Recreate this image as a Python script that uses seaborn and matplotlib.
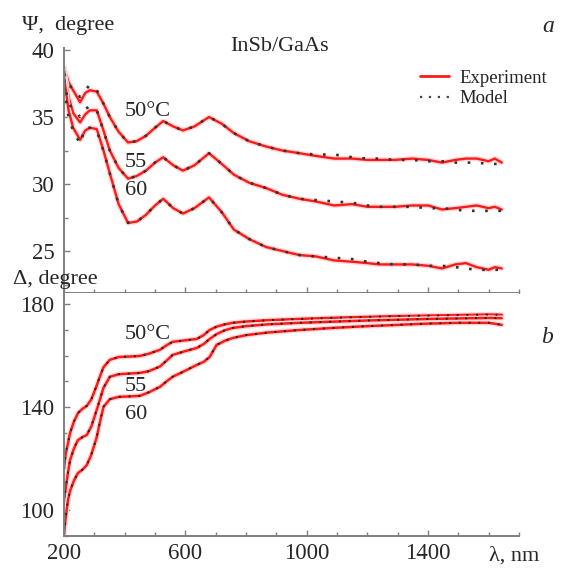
import seaborn as sns
import matplotlib.pyplot as plt
import matplotlib.patheffects as pe
from matplotlib.lines import Line2D
from matplotlib.ticker import MultipleLocator
import pandas as pd

# wavelength grid (nm) and Psi curves (degree)
lam_psi = [200, 215, 230, 253, 270, 285, 308, 330, 351, 380, 411, 440, 470, 500, 527, 560,
           592, 630, 678, 720, 760, 810, 866, 920, 976, 1030, 1091, 1150, 1200, 1239, 1290,
           1348, 1400, 1446, 1490, 1525, 1560, 1600, 1620, 1643]
psi_50 = [38.7, 37.6, 37.0, 36.1, 36.8, 37.0, 36.9, 36.0, 35.0, 33.9, 33.1, 33.2, 33.6, 34.2,
          34.7, 34.3, 34.0, 34.3, 35.0, 34.5, 33.8, 33.2, 32.8, 32.5, 32.3, 32.1, 31.9, 31.9,
          31.8, 31.8, 31.8, 31.9, 31.8, 31.6, 31.8, 31.9, 31.9, 31.7, 31.9, 31.6]
psi_55 = [38.5, 36.5, 35.3, 34.6, 35.2, 35.5, 35.5, 34.0, 32.5, 31.2, 30.4, 30.6, 31.0, 31.6,
          32.0, 31.4, 31.0, 31.4, 32.3, 31.5, 30.7, 30.1, 29.7, 29.2, 28.9, 28.7, 28.4, 28.5,
          28.3, 28.3, 28.3, 28.4, 28.4, 28.1, 28.2, 28.3, 28.4, 28.2, 28.3, 28.1]
psi_60 = [38.0, 35.5, 34.2, 33.3, 34.0, 34.2, 34.1, 32.5, 30.8, 28.5, 27.1, 27.2, 27.7, 28.4,
          28.9, 28.2, 27.8, 28.2, 29.0, 27.9, 26.6, 25.9, 25.3, 25.0, 24.7, 24.6, 24.3, 24.2,
          24.1, 24.0, 24.0, 24.0, 23.9, 23.7, 24.0, 24.1, 23.8, 23.6, 23.8, 23.7]
psi_50_model = [38.2, 37.4, 37.1, 36.5, 37.0, 37.4, 37.0, 36.0, 35.0, 33.9, 33.1, 33.2, 33.6, 34.2,
                34.7, 34.3, 34.0, 34.3, 35.0, 34.5, 33.8, 33.2, 32.8, 32.5, 32.3, 32.2, 32.2, 32.0,
                31.9, 31.9, 31.8, 31.8, 31.7, 31.7, 31.6, 31.6, 31.6, 31.5, 31.5, 31.5]
psi_55_model = [37.8, 36.0, 35.6, 35.0, 35.6, 35.8, 35.5, 34.0, 32.5, 31.2, 30.4, 30.6, 31.0, 31.6,
                32.0, 31.4, 31.0, 31.4, 32.3, 31.5, 30.7, 30.1, 29.7, 29.2, 28.9, 28.8, 28.7, 28.6,
                28.4, 28.3, 28.3, 28.3, 28.2, 28.2, 28.1, 28.0, 28.0, 28.0, 28.0, 28.0]
psi_60_model = [37.2, 35.0, 34.0, 33.0, 34.2, 34.2, 34.0, 32.5, 30.8, 28.5, 27.1, 27.2, 27.7, 28.4,
                28.9, 28.2, 27.8, 28.2, 29.0, 27.9, 26.6, 25.9, 25.3, 25.0, 24.7, 24.6, 24.5, 24.4,
                24.2, 24.1, 24.0, 24.0, 23.9, 23.9, 23.8, 23.7, 23.6, 23.6, 23.6, 23.6]

# Delta curves (degree)
lam_delta = [200, 205, 213, 220, 233, 246, 260, 275, 290, 308, 318, 330, 351, 380, 420, 450,
             480, 516, 540, 558, 600, 637, 660, 680, 703, 730, 756, 800, 870, 976, 1100, 1200,
             1300, 1400, 1500, 1600, 1643]
delta_50 = [116, 121.5, 126, 130, 134.5, 137.7, 139.3, 140.5, 143, 148.5, 151.8, 155.5, 158.4,
            159.5, 159.7, 159.9, 160.8, 162.3, 164.2, 165.4, 166.0, 166.5, 168, 170, 171.3,
            172.2, 172.8, 173.3, 173.8, 174.3, 174.8, 175.1, 175.4, 175.6, 175.8, 176.0, 175.9]
delta_55 = [103, 108, 114.5, 119.5, 124, 127.2, 128.3, 129.2, 132.5, 139, 142.8, 147.5, 151.8,
            152.8, 153.1, 153.3, 154, 155.8, 158.3, 160.3, 161.8, 163.0, 164.5, 166.5, 168.4,
            169.9, 170.8, 171.5, 172.2, 172.8, 173.3, 173.7, 174.0, 174.3, 174.5, 174.7, 174.6]
delta_60 = [90.5, 96.5, 103.9, 107.5, 111.5, 114.4, 115.6, 117.5, 121.5, 128.4, 134, 140.1, 143.1,
            144.0, 144.2, 144.4, 145.8, 147.9, 150.2, 151.8, 154.2, 156.4, 157.6, 159.5, 164.2,
            165.8, 166.9, 168.0, 169.0, 170.0, 170.9, 171.5, 172.0, 172.5, 172.8, 172.8, 172.0]

temps = ['50', '55', '60']

sns.set_style('ticks')
plt.rcParams['font.family'] = ['Liberation Serif', 'DejaVu Serif']

def long_form(lam, curves):
    frames = []
    for t, vals in zip(temps, curves):
        frames.append(pd.DataFrame({'lam': lam, 'val': vals, 'T': t}))
    return pd.concat(frames, ignore_index=True)

df_psi = long_form(lam_psi, [psi_50, psi_55, psi_60])
df_psi_m = long_form(lam_psi, [psi_50_model, psi_55_model, psi_60_model])
df_del = long_form(lam_delta, [delta_50, delta_55, delta_60])

red = '#ff1a1a'
pal = {t: red for t in temps}
pal_m = {t: '#333333' for t in temps}
halo = [pe.Stroke(linewidth=3.8, foreground='#ffdada'), pe.Normal()]

fig = plt.figure(figsize=(5.62, 5.69), dpi=100)
ax1 = fig.add_axes([0.1139, 0.4851, 0.8096, 0.4305])
ax2 = fig.add_axes([0.1139, 0.058, 0.8096, 0.4271], sharex=ax1)

sns.lineplot(data=df_psi, x='lam', y='val', hue='T', palette=pal, lw=1.7, legend=False, ax=ax1)
for ln in ax1.lines:
    ln.set_path_effects(halo)
sns.lineplot(data=df_psi_m, x='lam', y='val', hue='T', palette=pal_m, lw=1.9, legend=False,
             ax=ax1, linestyle=(0, (1, 4)))

sns.lineplot(data=df_del, x='lam', y='val', hue='T', palette=pal, lw=1.8, legend=False, ax=ax2)
for ln in ax2.lines:
    ln.set_path_effects(halo)
sns.lineplot(data=df_del, x='lam', y='val', hue='T', palette={t: '#222222' for t in temps},
             lw=1.4, legend=False, ax=ax2, linestyle=(0, (1, 4)))

spine_col = '#7f7f7f'
for ax in (ax1, ax2):
    ax.spines['top'].set_visible(False)
    ax.spines['right'].set_visible(False)
    ax.spines['left'].set_color(spine_col)
    ax.spines['bottom'].set_color(spine_col)
    ax.spines['left'].set_linewidth(1.4)
    ax.spines['bottom'].set_linewidth(1.4)
    ax.tick_params(which='both', direction='in', color=spine_col, labelsize=16.5, width=1.0)
    ax.tick_params(which='major', length=4, pad=7)
    ax.tick_params(which='minor', length=3)
    ax.set_xlabel('')
    ax.set_ylabel('')

ax1.set_xlim(200, 1700)
ax2.set_xticks([200, 600, 1000, 1400])
ax2.xaxis.set_minor_locator(MultipleLocator(100))
ax1.tick_params(axis='x', labelbottom=False)
ax2.tick_params(axis='x', pad=5)

ax1.set_ylim(21.87, 40.15)
ax1.set_yticks([25, 30, 35, 40])
ax1.yaxis.set_minor_locator(MultipleLocator(2.5))
ax2.set_ylim(89.9, 184.4)
ax2.set_yticks([100, 140, 180])
ax2.yaxis.set_minor_locator(MultipleLocator(10))

# curve labels
for ax, ys in ((ax1, [35.4, 31.6, 29.55]), (ax2, [168.1, 148.2, 137.0])):
    for txt, y in zip(['50°C', '55', '60'], ys):
        ax.text(400, y, txt, fontsize=16, ha='left', va='center')

fig.text(0.039, 0.956, 'Ψ,  degree', fontsize=16, ha='left', va='center')
fig.text(0.023, 0.508, 'Δ, degree', fontsize=16, ha='left', va='center')
fig.text(0.497, 0.919, 'InSb/GaAs', fontsize=16, ha='center', va='center')
fig.text(0.975, 0.953, 'a', fontsize=17, style='italic', ha='center', va='center')
fig.text(0.973, 0.406, 'b', fontsize=17, style='italic', ha='center', va='center')
ax2.text(0.99, -0.045, 'λ, nm', fontsize=16, ha='center', va='top', transform=ax2.transAxes)

handles = [Line2D([], [], color=red, lw=2),
           Line2D([], [], color='#444444', lw=1.6, linestyle=(0, (1, 3)))]
fig.legend(handles, ['Experiment', 'Model'], loc='upper left',
           bbox_to_anchor=(0.748, 0.878), frameon=False, fontsize=13.5,
           handlelength=1.5, handletextpad=0.6, labelspacing=0.2, borderpad=0, borderaxespad=0)

fig.savefig('out.png', dpi=100)
